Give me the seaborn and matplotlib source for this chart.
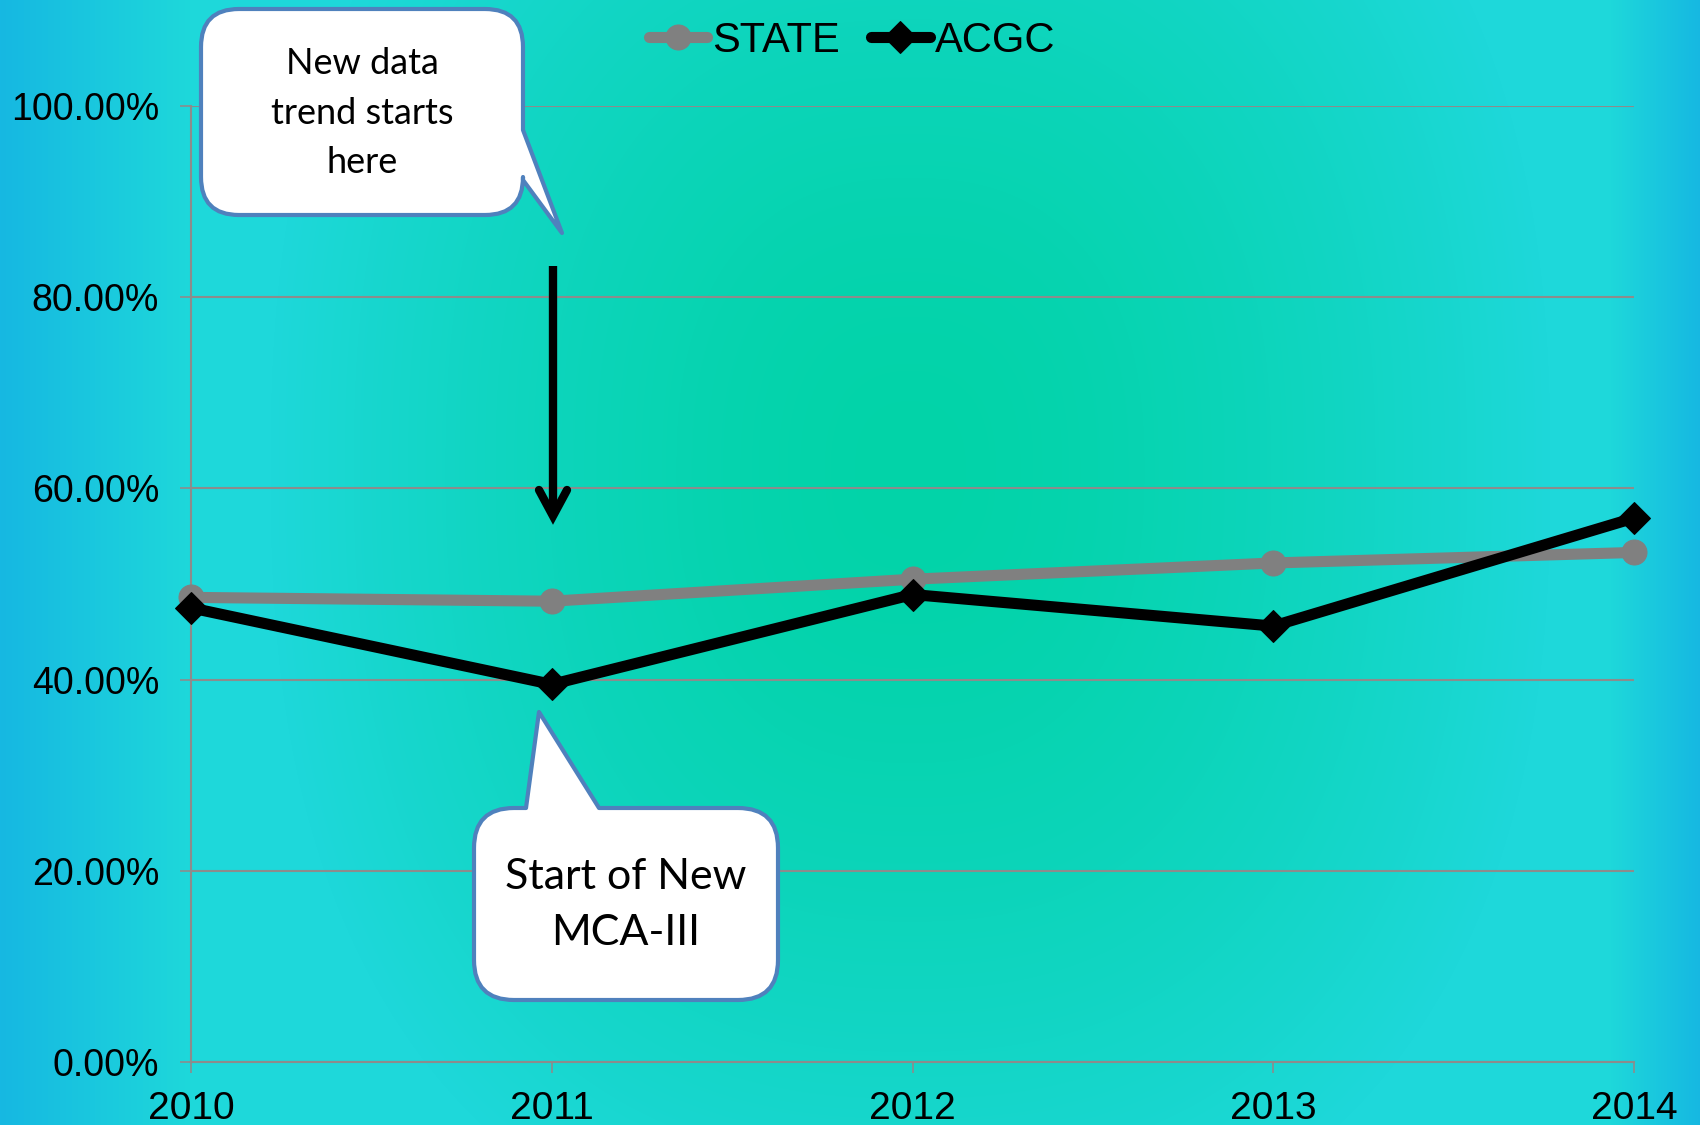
import numpy as np
import matplotlib
matplotlib.use("Agg")
import matplotlib.pyplot as plt
from matplotlib.path import Path
from matplotlib.patches import PathPatch
from matplotlib.ticker import PercentFormatter
import seaborn as sns

years = [2010, 2011, 2012, 2013, 2014]
state = [0.486, 0.482, 0.505, 0.522, 0.533]
acgc = [0.475, 0.395, 0.489, 0.456, 0.569]
y_ticks = [0.0, 0.2, 0.4, 0.6, 0.8, 1.0]

note_top = "New data\ntrend starts\nhere"
note_bottom = "Start of New\nMCA-III"

sns.set_theme(style="white")
plt.rcParams['font.family'] = ['Liberation Sans', 'DejaVu Sans']
plt.rcParams['text.color'] = 'black'
plt.rcParams['xtick.labelcolor'] = 'black'
plt.rcParams['ytick.labelcolor'] = 'black'

W, H = 1700, 1125
fig = plt.figure(figsize=(17, 11.25), dpi=100)

# gradient background (green centre, cyan, blue side edges)
bg = fig.add_axes([0, 0, 1, 1], zorder=0)
xx, yy = np.meshgrid(np.arange(W), np.arange(H))
nx = (xx - 910) / 640.0
ny = (yy - 470) / 800.0
t = np.clip((np.abs(nx) ** 2.4 + np.abs(ny) ** 2.4) ** (1 / 2.4), 0, 1) ** 1.6
green = np.array([2, 211, 168]) / 255
cyan = np.array([30, 216, 218]) / 255
blue = np.array([22, 184, 226]) / 255
img = green[None, None, :] * (1 - t[..., None]) + cyan[None, None, :] * t[..., None]
b = np.clip(np.maximum((190 - xx) / 190.0, (xx - 1610) / 90.0), 0, 1)
img = img * (1 - b[..., None]) + blue[None, None, :] * b[..., None]
bg.imshow(img, aspect='auto', extent=[0, W, H, 0])
bg.set_axis_off()

# main chart
ax = fig.add_axes([191 / W, 1 - 1062 / H, (1634 - 191) / W, (1062 - 106) / H], zorder=2)
ax.patch.set_alpha(0)
sns.lineplot(x=years, y=state, ax=ax, color='#808080', linewidth=8, marker='o',
             markersize=18, markeredgecolor='#808080', label='STATE', clip_on=False, zorder=3)
sns.lineplot(x=years, y=acgc, ax=ax, color='black', linewidth=8, marker='D',
             markersize=16, markeredgecolor='black', label='ACGC', clip_on=False, zorder=4)

ax.set_xlim(2010, 2014)
ax.set_ylim(0, 1)
ax.set_xticks(years)
ax.set_yticks(y_ticks)
ax.yaxis.set_major_formatter(PercentFormatter(1.0, decimals=2))
ax.grid(axis='y', color='#8c8c8c', linewidth=1.5)
ax.grid(axis='x', visible=False)
for side in ['top', 'right']:
    ax.spines[side].set_visible(False)
for side in ['left', 'bottom']:
    ax.spines[side].set_color('#8c8c8c')
    ax.spines[side].set_linewidth(1.5)
ax.tick_params(axis='x', length=8, width=1.2, color='#8c8c8c', pad=13, labelsize=28,
               labelcolor='black', direction='out')
ax.tick_params(axis='y', length=8, width=1.2, color='#8c8c8c', pad=15, labelsize=27,
               labelcolor='black', direction='out')
ax.tick_params(bottom=True, left=True)
ax.set_xlabel('')
ax.set_ylabel('')

leg = ax.legend(loc='center', bbox_to_anchor=(852 / W, 1 - 41 / H), bbox_transform=fig.transFigure,
                ncol=2, frameon=False, fontsize=30, handlelength=1.4, handletextpad=0.12,
                columnspacing=0.75, borderpad=0)
for txt in leg.get_texts():
    txt.set_color('black')

# callouts drawn in pixel coordinates
ov = fig.add_axes([0, 0, 1, 1], zorder=5)
ov.set_xlim(0, W)
ov.set_ylim(H, 0)
ov.set_axis_off()
ov.patch.set_alpha(0)


def callout(x0, y0, x1, y1, r, side, a, tip, c):
    verts = [(x0 + r, y0)]
    codes = [Path.MOVETO]
    if side == 'top':
        verts += [(a, y0), tip, (c, y0)]
        codes += [Path.LINETO] * 3
    verts += [(x1 - r, y0), (x1, y0), (x1, y0 + r)]
    codes += [Path.LINETO, Path.CURVE3, Path.CURVE3]
    if side == 'right':
        verts += [(x1, a), tip, (x1, c)]
        codes += [Path.LINETO] * 3
    verts += [(x1, y1 - r), (x1, y1), (x1 - r, y1),
              (x0 + r, y1), (x0, y1), (x0, y1 - r),
              (x0, y0 + r), (x0, y0), (x0 + r, y0), (x0 + r, y0)]
    codes += [Path.LINETO, Path.CURVE3, Path.CURVE3,
              Path.LINETO, Path.CURVE3, Path.CURVE3,
              Path.LINETO, Path.CURVE3, Path.CURVE3, Path.CLOSEPOLY]
    ov.add_patch(PathPatch(Path(verts, codes), facecolor='white', edgecolor='#4f81bd',
                           linewidth=3, joinstyle='round'))


callout(201, 9, 523, 215, 38, 'right', 130, (562, 233), 180)
callout(474, 808, 778, 1000, 40, 'top', 526, (539, 712), 599)

ov.text(362, 113, note_top, ha='center', va='center', fontsize=26, family='Lato',
        linespacing=1.62, color='black')
ov.text(626, 905, note_bottom, ha='center', va='center', fontsize=31, family='Lato',
        linespacing=1.55, color='black')

# arrow
ov.plot([553, 553], [266, 512], color='black', linewidth=6, solid_capstyle='butt')
ov.plot([539, 553, 567], [490, 516, 490], color='black', linewidth=6,
        solid_capstyle='round', solid_joinstyle='miter')

fig.savefig('out.png', dpi=100)
